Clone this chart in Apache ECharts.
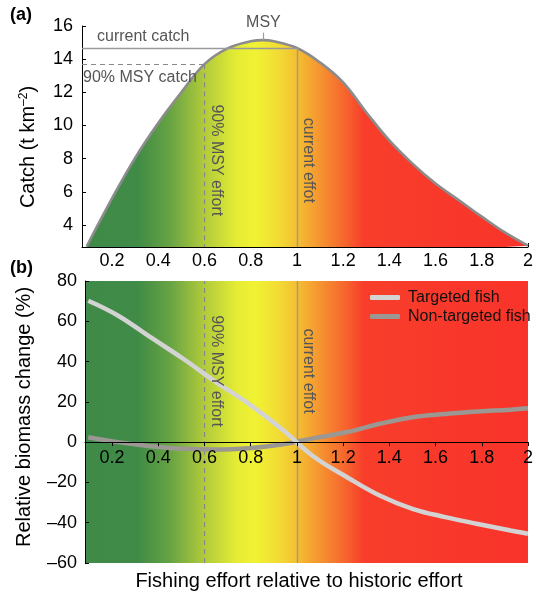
<!DOCTYPE html>
<html><head><meta charset="utf-8">
<script src="https://cdn.jsdelivr.net/npm/echarts@6/dist/echarts.min.js"></script>
<style>html,body{margin:0;padding:0;background:#fff}#c{width:536px;height:596px}</style>
</head><body><div id="c"></div>
<script>
// ---- data ----
const catchEffort = [0.09,0.2,0.3,0.4,0.5,0.6,0.7,0.8,0.855,0.9,1.0,1.1,1.2,1.3,1.4,1.5,1.6,1.7,1.8,1.9,2.0];
const catchValues = [2.7,5.6,8.05,10.15,12.0,13.7,14.65,15.08,15.15,15.08,14.67,13.8,12.6,10.8,9.1,7.7,6.5,5.5,4.5,3.55,2.75];
const bioEffort = [0.097,0.225,0.366,0.508,0.65,0.792,0.933,1.075,1.217,1.358,1.5,1.642,1.783,1.925,2.0];
const targetedFish = [70.2,62.9,52.1,41.4,29.8,19.0,6.6,-7.4,-17.4,-26.5,-33.1,-37.2,-40.6,-43.9,-45.5];
const nonTargetedFish = [2.4,0,-2,-3.3,-3.7,-3,-1.2,2.0,5.0,9.1,12.4,14.0,15.2,16.1,16.8];
const xTicks = [0.2,0.4,0.6,0.8,1,1.2,1.4,1.6,1.8,2];
const catchTicks = [4,6,8,10,12,14,16];
const biomassTicks = [-60,-40,-20,0,20,40,60,80];
const msyEffort = 0.855, msyCatch = 15.15;
const currentEffort = 1.0, currentCatch = 14.67;
const msy90Effort = 0.6, msy90Catch = 13.7;
const seriesNames = ['Targeted fish','Non-targeted fish'];
// colour ramp along effort axis
const rampStops = [[0.07,'#3f8a48'],[0.31,'#408b47'],[0.45,'#66a343'],[0.6,'#b1cb3b'],[0.74,'#e5ec34'],[0.82,'#f1f233'],[0.92,'#f2dc34'],[1.0,'#f4bf32'],[1.1,'#f59430'],[1.2,'#f6692d'],[1.29,'#f83e2b'],[2.0,'#f9332a']];

const FONT = "'Liberation Sans', Arial, sans-serif";
function ramp(x0, x1){
  const stops = rampStops.map(s=>({offset: Math.min(1,Math.max(0,(s[0]-x0)/(x1-x0))), color:s[1]}));
  return new echarts.graphic.LinearGradient(0,0,1,0,stops);
}
const topXMin = 0.07, botXMin = 0.083, xMax = 2;
const topYMin = 2.67;
const enDash = v => String(v).replace('-', '\u2013');
const xFmt = v => xTicks.some(t=>Math.abs(t-v)<1e-6) ? String(+v.toFixed(1)) : '';

const chart = echarts.init(document.getElementById('c'), null, {renderer:'canvas'});
const refGray = '#9a9a9a';
const option = {
  animation:false,
  textStyle:{fontFamily:FONT},
  grid:[
    {left:82, right:0, top:26, height:221, containLabel:false},
    {left:85, right:0, top:281, height:282, containLabel:false, show:true, borderWidth:0, backgroundColor: ramp(botXMin, xMax)}
  ],
  xAxis:[
    {gridIndex:0, type:'value', min:topXMin, max:xMax, minInterval:0.2, maxInterval:0.2, splitNumber:10,
     axisLine:{lineStyle:{color:'#000',width:1}}, axisTick:{inside:true,length:4,lineStyle:{color:'#000'}},
     axisLabel:{showMinLabel:false, color:'#000', fontSize:18, margin:5, fontFamily:FONT, formatter:xFmt},
     splitLine:{show:false}},
    {gridIndex:1, type:'value', min:botXMin, max:xMax, minInterval:0.2, maxInterval:0.2, splitNumber:10,
     axisLine:{onZero:false, lineStyle:{color:'#000',width:1.2}}, axisTick:{inside:false,length:4,lineStyle:{color:'#000'}},
     axisLabel:{showMinLabel:false, color:'#000', fontSize:18, margin:7, fontFamily:FONT, formatter:xFmt},
     splitLine:{show:false}, z:6}
  ],
  yAxis:[
    {gridIndex:0, type:'value', min:topYMin, max:16, minInterval:2, maxInterval:2, splitNumber:7,
     axisLine:{show:true,lineStyle:{color:'#000',width:1}}, axisTick:{show:true,inside:true,length:4,lineStyle:{color:'#000'}},
     axisLabel:{showMinLabel:false, color:'#000', fontSize:18, margin:9, fontFamily:FONT,
       formatter:v=>catchTicks.includes(v)?String(v):''},
     splitLine:{show:false}},
    {gridIndex:1, type:'value', min:-60, max:80, interval:20,
     axisLine:{show:true,lineStyle:{color:'#000',width:1}}, axisTick:{show:true,inside:true,length:4,lineStyle:{color:'#000'}},
     axisLabel:{color:'#000', fontSize:18, margin:8, fontFamily:FONT, formatter:v=>biomassTicks.includes(v)?enDash(v):''},
     splitLine:{show:false}}
  ],
  legend:{
    data:seriesNames, orient:'vertical', left:370, top:288, padding:0, itemGap:0,
    icon:'roundRect', itemWidth:30, itemHeight:5,
    textStyle:{fontSize:16, color:'#111', fontFamily:FONT, lineHeight:19, padding:[0,0,0,3]}
  },
  series:[
    {type:'line', xAxisIndex:0, yAxisIndex:0, data:catchEffort.map((x,i)=>[x,catchValues[i]]),
     smooth:0.4, symbol:'none', z:3,
     lineStyle:{color:'#8c8c8c', width:2.6},
     areaStyle:{origin:'start', color: ramp(catchEffort[0], catchEffort[catchEffort.length-1]), opacity:1},
     markLine:{silent:true, symbol:'none', label:{show:false}, z:4,
       data:[
         [{coord:[topXMin,currentCatch], lineStyle:{color:refGray,width:1.4,type:'solid'}},{coord:[currentEffort,currentCatch]}],
         [{coord:[currentEffort,currentCatch], lineStyle:{color:refGray,width:1.4,type:'solid'}},{coord:[currentEffort,topYMin]}],
         [{coord:[topXMin,msy90Catch], lineStyle:{color:'#888',width:1.2,type:[5,4]}},{coord:[msy90Effort,msy90Catch]}],
         [{coord:[msy90Effort,msy90Catch], lineStyle:{color:'#888',width:1.2,type:[5,4]}},{coord:[msy90Effort,topYMin]}],
         [{coord:[msyEffort,msyCatch], lineStyle:{color:refGray,width:1.2,type:'solid'}},{coord:[msyEffort,15.6]}]
       ]}
    },
    {name:seriesNames[0], type:'line', xAxisIndex:1, yAxisIndex:1, data:bioEffort.map((x,i)=>[x,targetedFish[i]]),
     smooth:0.4, symbol:'none', z:5, color:'#d3d3d3', itemStyle:{color:'#d3d3d3'},
     lineStyle:{color:'#d3d3d3', width:4.5},
     markLine:{silent:true, symbol:'none', label:{show:false}, z:3,
       data:[
         [{coord:[msy90Effort,-60], lineStyle:{color:'#888',width:1.2,type:[5,4]}},{coord:[msy90Effort,80]}],
         [{coord:[currentEffort,-60], lineStyle:{color:refGray,width:1.4,type:'solid'}},{coord:[currentEffort,80]}]
       ]}
    },
    {name:seriesNames[1], type:'line', xAxisIndex:1, yAxisIndex:1, data:bioEffort.map((x,i)=>[x,nonTargetedFish[i]]),
     smooth:0.4, symbol:'none', z:4, color:'#9b9793', itemStyle:{color:'#9b9793'},
     lineStyle:{color:'#9b9793', width:4.5}}
  ]
};
chart.setOption(option);

const P0 = c=>chart.convertToPixel({gridIndex:0}, c);
const P1 = c=>chart.convertToPixel({gridIndex:1}, c);
// place bottom-panel x axis at biomass change = 0 (through the y scale)
const zeroOffset = P1([1,0])[1] - P1([1,-60])[1];
chart.setOption({xAxis:[{}, {offset: zeroOffset}]});

const annColor = '#555';
const txt = (x,y,text,extra)=>({type:'text', x, y, z:50, style:Object.assign({text, fill:annColor, font:'16px '+FONT}, extra||{})});
const g = [];
let p;
p = P0([topXMin, currentCatch]); g.push(txt(p[0]+15, p[1]-3, 'current catch', {textVerticalAlign:'bottom'}));
p = P0([topXMin, msy90Catch]); g.push(txt(p[0]+1, p[1]+5, '90% MSY catch', {textVerticalAlign:'top'}));
p = P0([msyEffort, 15.6]); g.push(txt(p[0], p[1]-2, 'MSY', {textAlign:'center', textVerticalAlign:'bottom'}));
const vtxt = (pt,dx,text)=>Object.assign(txt(pt[0]+dx, pt[1], text, {textAlign:'center', textVerticalAlign:'middle'}), {rotation:-Math.PI/2});
g.push(vtxt(P0([msy90Effort, 7.9]), 12, '90% MSY effort'));
g.push(vtxt(P0([currentEffort, 7.9]), 11, 'current effot'));
g.push(vtxt(P1([msy90Effort, 35.3]), 12, '90% MSY effort'));
g.push(vtxt(P1([currentEffort, 35.3]), 11, 'current effot'));
// titles & panel letters
g.push({type:'text', x:28, y:147, rotation:Math.PI/2, style:{rich:{n:{fontSize:20,fontFamily:FONT,fill:'#000'}, s:{fontSize:12,fontFamily:FONT,fill:'#000',verticalAlign:'top',padding:[0,0,8,0]}}, text:'{n|Catch (t km}{s|\u20132}{n|)}', textAlign:'center', textVerticalAlign:'middle', fill:'#000'}});
g.push({type:'text', x:24, y:417, rotation:Math.PI/2, style:{text:'Relative biomass change (%)', font:'20px '+FONT, fill:'#000', textAlign:'center', textVerticalAlign:'middle'}});
g.push({type:'text', x:299, y:581, style:{text:'Fishing effort relative to historic effort', font:'20px '+FONT, fill:'#000', textAlign:'center', textVerticalAlign:'middle'}});
g.push({type:'text', x:10, y:15, style:{text:'(a)', font:'bold 18px '+FONT, fill:'#000', textVerticalAlign:'middle'}});
g.push({type:'text', x:10, y:268, style:{text:'(b)', font:'bold 18px '+FONT, fill:'#000', textVerticalAlign:'middle'}});
chart.setOption({graphic:g});
</script></body></html>
